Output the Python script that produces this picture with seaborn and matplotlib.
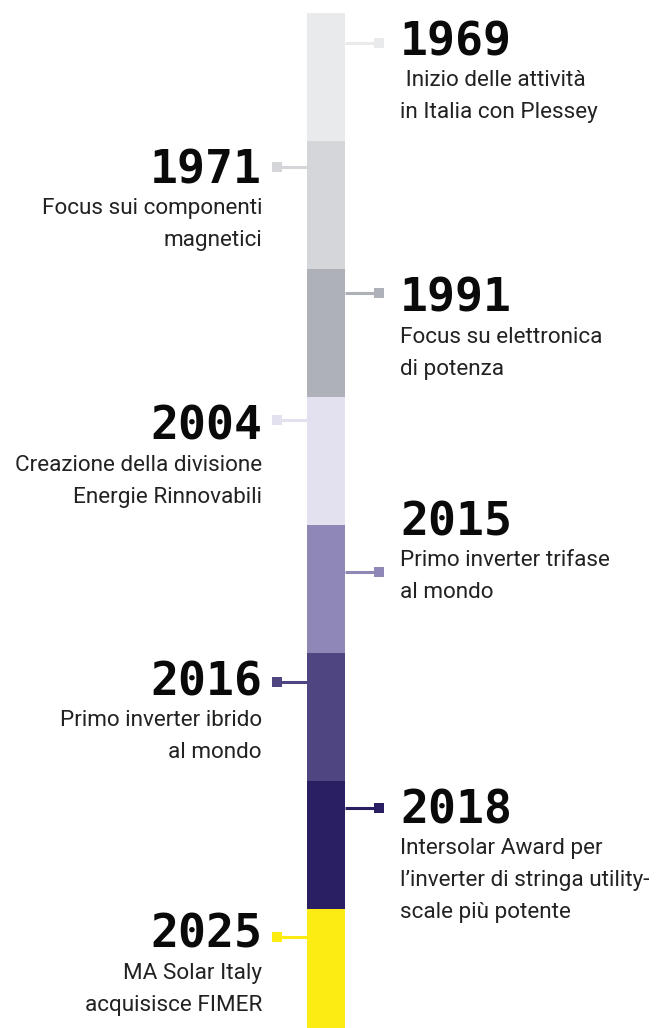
import numpy as np
import matplotlib
matplotlib.use("Agg")
import matplotlib.pyplot as plt
from matplotlib.colors import ListedColormap
import seaborn as sns

years = ["1969", "1971", "1991", "2004", "2015", "2016", "2018", "2025"]
descriptions = [
    [" Inizio delle attività", "in Italia con Plessey"],
    ["Focus sui componenti", "magnetici"],
    ["Focus su elettronica", "di potenza"],
    ["Creazione della divisione", "Energie Rinnovabili"],
    ["Primo inverter trifase", "al mondo"],
    ["Primo inverter ibrido", "al mondo"],
    ["Intersolar Award per", "l\u2019inverter di stringa utility-", "scale più potente"],
    ["MA Solar Italy", "acquisisce FIMER"],
]
sides = ["right", "left", "right", "left", "right", "left", "right", "left"]
colors = ["#E9EAEC", "#D5D6DA", "#AFB1B9", "#E3E1F0",
          "#8F87B6", "#4F4581", "#2A1F63", "#FDEC13"]

# layout (pixels from top)
year_base = [55, 183, 312, 440, 535, 695, 823, 948]
conn_y = [43, 167, 293, 420, 572, 682, 808, 937]
seg_h = 128
bar_top, bar_x0, bar_x1 = 13, 307, 345

W, H = 660, 1028
sns.set_theme(style="white")
fig = plt.figure(figsize=(W / 100, H / 100), dpi=100)
fig.patch.set_facecolor("white")

# the coloured column, as a one-column heatmap
bar_bottom = bar_top + seg_h * len(years)
ax_bar = fig.add_axes([bar_x0 / W, 1 - bar_bottom / H, (bar_x1 - bar_x0) / W, seg_h * len(years) / H])
sns.heatmap(np.arange(len(years)).reshape(-1, 1), cmap=ListedColormap(colors),
            cbar=False, ax=ax_bar, xticklabels=False, yticklabels=False)
ax_bar.axis("off")

# overlay in pixel units for connectors and text
ax = fig.add_axes([0, 0, 1, 1])
ax.set_xlim(0, W)
ax.set_ylim(H, 0)
ax.axis("off")
ax.patch.set_alpha(0)

year_font = dict(family="DejaVu Sans Mono", weight="bold", size=33.5, color="#0a0a0a")
desc_font = dict(family="Roboto", size=16.2, color="#222222")

for yr, desc, side, col, yb, cy in zip(years, descriptions, sides, colors, year_base, conn_y):
    if side == "right":
        sq_x, x_edge, tx, ha = 378.5, bar_x1, 400, "left"
    else:
        sq_x, x_edge, tx, ha = 276.5, bar_x0, 262, "right"
    ax.plot([x_edge, sq_x], [cy, cy], color=col, lw=2.2, solid_capstyle="butt")
    ax.plot([sq_x], [cy], marker="s", markersize=7.9, color=col, markeredgewidth=0)
    ax.text(tx, yb, yr, ha=ha, va="baseline", **year_font)
    for k, line in enumerate(desc):
        ax.text(tx, yb + 31 + 32 * k, line, ha=ha, va="baseline", **desc_font)

fig.savefig("out.png", dpi=100, facecolor="white")
